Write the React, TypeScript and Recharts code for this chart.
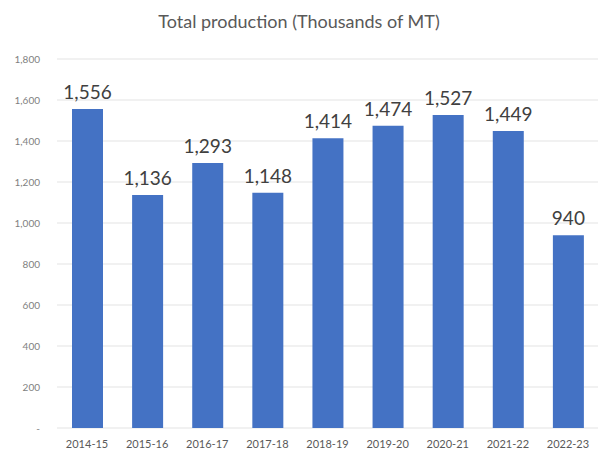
import { Bar, BarChart, CartesianGrid, LabelList, XAxis, YAxis } from "recharts";

const seasons = ["2014-15", "2015-16", "2016-17", "2017-18", "2018-19", "2019-20", "2020-21", "2021-22", "2022-23"];
const production = [1556, 1136, 1293, 1148, 1414, 1474, 1527, 1449, 940];
const yTicks = [0, 200, 400, 600, 800, 1000, 1200, 1400, 1600, 1800];

const data = seasons.map((season, i) => ({ season, value: production[i] }));

const fmt = (v: number) => (v === 0 ? "-" : v.toLocaleString("en-US"));

export default function App() {
  return (
    <div
      style={{
        position: "absolute",
        left: 0,
        top: 0,
        width: 598,
        height: 460,
        background: "#fff",
        fontFamily: "Lato, 'Open Sans', sans-serif",
      }}
    >
      <div
        style={{
          position: "absolute",
          top: 10,
          left: 0,
          width: 598,
          textAlign: "center",
          fontSize: 18,
          color: "#595959",
        }}
      >
        Total production (Thousands of MT)
      </div>
      <BarChart
        width={598}
        height={460}
        data={data}
        margin={{ top: 59, right: 0, left: 0, bottom: 0 }}
        barCategoryGap="24%"
      >
        <CartesianGrid vertical={false} stroke="#e3e3e3" />
        <XAxis
          dataKey="season"
          axisLine={false}
          tickLine={false}
          tickSize={0}
          tickMargin={12}
          height={32}
          tick={{ fill: "#595959", fontSize: 11 }}
          interval={0}
        />
        <YAxis
          domain={[0, 1800]}
          ticks={yTicks}
          width={57}
          axisLine={false}
          tickLine={false}
          tickSize={0}
          tickMargin={17}
          tickFormatter={fmt}
          tick={{ fill: "#7f7f7f", fontSize: 10 }}
        />
        <Bar dataKey="value" fill="#4472c4" barSize={31} isAnimationActive={false}>
          <LabelList
            dataKey="value"
            position="top"
            offset={10}
            formatter={(v: any) => Number(v).toLocaleString("en-US")}
            style={{ fill: "#404040", fontSize: 19 }}
          />
        </Bar>
      </BarChart>
    </div>
  );
}
